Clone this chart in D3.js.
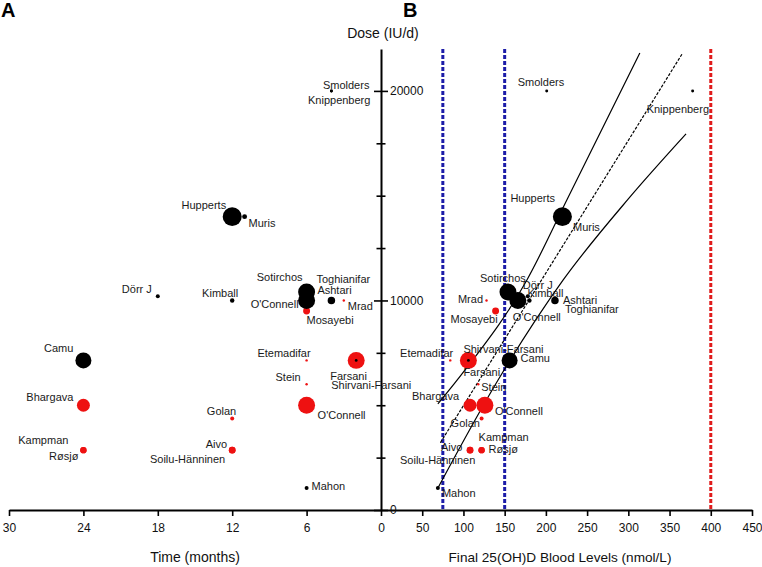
<!DOCTYPE html>
<html><head><meta charset="utf-8">
<script src="https://cdn.jsdelivr.net/npm/d3@7"></script>
<style>
body{margin:0;background:#fff}
text{font-family:"Liberation Sans",Arial,Helvetica,sans-serif}
</style>
</head><body>
<svg id="chart" width="762" height="567"></svg>
<script>
// ---------- data ----------
const studies = ["Smolders","Knippenberg","Hupperts","Muris","Dörr J","Kimball","Sotirchos","O'Connell","Toghianifar","Ashtari","Mrad","Mosayebi","Camu","Etemadifar","Farsani","Shirvani-Farsani","Stein","Bhargava","O'Connell","Golan","Kampman","Røsjø","Aivo","Soilu-Hänninen","Mahon"];
const timeMonths = [4,4,12,11,18,12,6,6,4,4,3,6,24,6,2,2,6,24,6,12,24,24,12,12,6];
const doseIU = [20000,20000,14000,14000,10200,10000,10400,10000,10000,10000,10000,9500,7140,7140,7140,7140,6000,5000,5000,4370,2857,2857,2857,2857,1050];
const finalLevel = [201,378,220,228,178,180,154,166,211,211,128,139,156,84,106,106,118,108,126,122,122,122,108,108,69];
const markerWeight = [2.2,2.2,90,6,4,5,72,72,2,14,1.5,12,64,1.5,72,2,1.5,42,72,4,10,10,11,11,4];
const studyGroup = [1,1,1,1,1,1,1,1,1,1,2,2,1,2,2,1,2,2,2,2,2,2,2,2,1];

const timeTicks = [30,24,18,12,6,0];
const levelTicks = [50,100,150,200,250,300,350,400,450];
const doseMajorTicks = [0,10000,20000];
const doseMinorTicks = [2500,5000,7500,12500,15000,17500];
const referenceLevels = [75,150,400];
const referenceGroup = [1,1,2];

// fitted line and confidence band: [level, dose]
const regressionLine = [[72,3210],[366,21814]];
const upperBand = [[69,5060],[102,6683],[177,10979],[226,14845],[314,21814]];
const lowerBand = [[69,1050],[142,6205],[221,10979],[300,14845],[370,17947]];

// ---------- layout (label offsets, px) ----------
const labelLeft = [[38,-2,"end"],[39,13,"end"],[-6,-8,"end"],[4,10,"start"],[-6,-3,"end"],[6,-3,"end"],[-4,-11,"end"],[-8,7.5,"end"],[-15,-17,"start"],[-14,-6,"start"],[4,10,"start"],[0,13,"start"],[-10,-8,"end"],[4,-3,"end"],[-26,20,"start"],[-25,28.5,"start"],[-6,-3,"end"],[-10,-4,"end"],[11,14,"start"],[4,-3,"end"],[-15,-6,"end"],[-5,10,"end"],[-5,-2,"end"],[-7,13,"end"],[5,2,"start"]];
const labelRight = [[-29,-5,"start"],[-46,22,"start"],[-52,-15,"start"],[4,14,"start"],[-5,-7,"start"],[-2,-3,"start"],[-28,-10,"start"],[-5,21,"start"],[10,13,"start"],[8,4,"start"],[-3.5,3,"end"],[2,12,"end"],[11,2,"start"],[3,-3,"end"],[-5,16,"start"],[-5,-7,"start"],[3,7,"start"],[-11,-5,"end"],[10,10,"start"],[-31,9,"start"],[-3,-9,"start"],[7,3,"start"],[-29,1,"start"],[-70,14,"start"],[4,9,"start"]];

// ---------- scales ----------
const svg = d3.select("#chart");
const xTime = d3.scaleLinear().domain([30,0]).range([9,381]);
const xLevel = d3.scaleLinear().domain([0,450]).range([381,752]);
const y = d3.scaleLinear().domain([0,22000]).range([510,49]);
const r = d3.scaleSqrt().domain([0,100]).range([0,10]);
const color = d3.scaleOrdinal().domain([1,2]).range(["#000000","#ee1111"]);
const refColor = d3.scaleOrdinal().domain([1,2]).range(["#1c1ca8","#e01b1b"]);

const rows = studies.map((s,i)=>({name:s,t:timeMonths[i],d:doseIU[i],l:finalLevel[i],w:markerWeight[i],g:studyGroup[i],i}));
const drawOrder = rows.slice().sort((a,b)=>a.g===b.g? b.w-a.w : b.g-a.g);

// ---------- reference lines ----------
svg.append("g").selectAll("line").data(referenceLevels).join("line")
  .attr("x1",d=>xLevel(d)).attr("x2",d=>xLevel(d))
  .attr("y1",y(22000)).attr("y2",y(0))
  .attr("stroke",(d,i)=>refColor(referenceGroup[i])).attr("stroke-width",3)
  .attr("stroke-dasharray","4,2");

// ---------- regression + band ----------
const ln = d3.line().x(d=>xLevel(d[0])).y(d=>y(d[1])).curve(d3.curveMonotoneX);
svg.append("path").attr("d",ln(upperBand)).attr("fill","none").attr("stroke","#000").attr("stroke-width",1.2);
svg.append("path").attr("d",ln(lowerBand)).attr("fill","none").attr("stroke","#000").attr("stroke-width",1.2);
svg.append("path").attr("d",d3.line().x(d=>xLevel(d[0])).y(d=>y(d[1]))(regressionLine))
  .attr("fill","none").attr("stroke","#000").attr("stroke-width",1.2).attr("stroke-dasharray","3,1.5");

// ---------- axes ----------
const axL = svg.append("g").attr("transform","translate(0,510)")
  .call(d3.axisBottom(xTime).tickValues(timeTicks).tickSize(6).tickSizeOuter(0).tickPadding(7.5));
const axR = svg.append("g").attr("transform","translate(0,510)")
  .call(d3.axisBottom(xLevel).tickValues(levelTicks).tickSize(6).tickSizeOuter(0).tickPadding(7.5));
[axL,axR].forEach(a=>{
  a.select(".domain").attr("stroke","#000").attr("stroke-width",2);
  a.selectAll(".tick line").attr("stroke","#000").attr("stroke-width",1.6);
  a.selectAll(".tick text").attr("font-size",12).attr("fill","#111").attr("font-family",null);
});
const ayMinor = svg.append("g").attr("transform","translate(381,0)")
  .call(d3.axisRight(y).tickValues(doseMinorTicks).tickSize(4.5).tickSizeOuter(0).tickFormat(""));
ayMinor.select(".domain").remove();
ayMinor.selectAll(".tick line").attr("x1",-4.5).attr("stroke","#000").attr("stroke-width",1.6);
const ay = svg.append("g").attr("transform","translate(381,0)")
  .call(d3.axisRight(y).tickValues(doseMajorTicks).tickSize(7).tickSizeOuter(0).tickPadding(2).tickFormat(d3.format("d")));
ay.select(".domain").attr("stroke","#000").attr("stroke-width",2);
ay.selectAll(".tick line").attr("x1",-7).attr("stroke","#000").attr("stroke-width",1.6);
ay.selectAll(".tick text").attr("font-size",12).attr("fill","#111").attr("font-family",null);

// ---------- points ----------
const gL = svg.append("g"), gR = svg.append("g");
gL.selectAll("circle").data(drawOrder).join("circle")
  .attr("cx",d=>xTime(d.t)).attr("cy",d=>y(d.d)).attr("r",d=>r(d.w)).attr("fill",d=>color(d.g));
gR.selectAll("circle").data(drawOrder).join("circle")
  .attr("cx",d=>xLevel(d.l)).attr("cy",d=>y(d.d)).attr("r",d=>r(d.w)).attr("fill",d=>color(d.g));

// ---------- labels ----------
const lab = svg.append("g").attr("font-size",11).attr("fill","#1a1a1a");
lab.selectAll("text.l").data(rows).join("text").attr("class","l")
  .attr("x",d=>xTime(d.t)+labelLeft[d.i][0]).attr("y",d=>y(d.d)+labelLeft[d.i][1])
  .attr("text-anchor",d=>labelLeft[d.i][2]).text(d=>d.name);
lab.selectAll("text.r").data(rows).join("text").attr("class","r")
  .attr("x",d=>xLevel(d.l)+labelRight[d.i][0]).attr("y",d=>y(d.d)+labelRight[d.i][1])
  .attr("text-anchor",d=>labelRight[d.i][2]).text(d=>d.name);

// ---------- titles ----------
svg.append("text").attr("x",383).attr("y",38).attr("text-anchor","middle").attr("font-size",14).attr("fill","#111").text("Dose (IU/d)");
svg.append("text").attr("x",195).attr("y",562).attr("text-anchor","middle").attr("font-size",14).attr("fill","#111").text("Time (months)");
svg.append("text").attr("x",560).attr("y",562).attr("text-anchor","middle").attr("font-size",13.6).attr("fill","#111").text("Final 25(OH)D Blood Levels (nmol/L)");
svg.append("text").attr("x",1).attr("y",17).attr("font-size",20).attr("font-weight","bold").text("A");
svg.append("text").attr("x",403).attr("y",17).attr("font-size",20).attr("font-weight","bold").text("B");
</script>
</body></html>
